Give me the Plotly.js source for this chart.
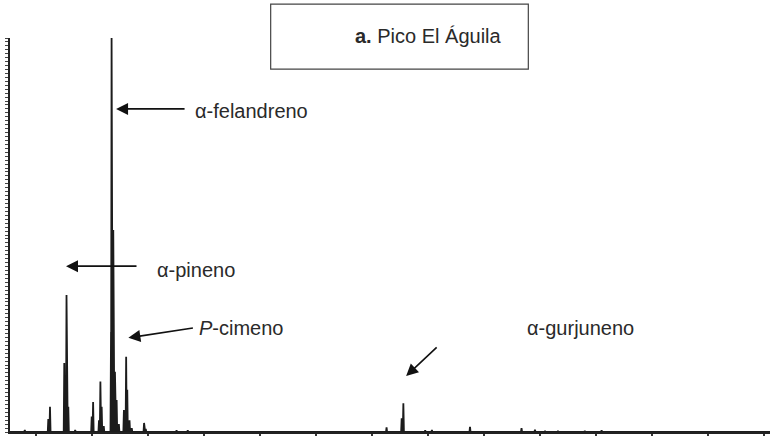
<!DOCTYPE html>
<html>
<head>
<meta charset="utf-8">
<script src="https://cdn.plot.ly/plotly-3.0.1.min.js"></script>
<style>html,body{margin:0;padding:0;background:#fff;}#chart{width:777px;height:436px;}</style>
</head>
<body>
<div id="chart"></div>
<script>
// Retention time (arbitrary units, one x tick per unit) and relative abundance (%)
const peakTimes = [0.80, 1.22, 1.25, 1.505, 1.545, 1.577, 1.70, 1.995, 2.02, 2.125, 2.15, 2.173, 2.21,
  2.34, 2.35, 2.38, 2.41, 2.44, 2.48, 2.57, 2.61, 2.63, 2.67, 2.71, 2.93, 2.96, 3.51, 3.71,
  7.26, 7.53, 7.56, 7.95, 8.07, 8.75, 9.67, 9.91, 10.09, 10.32, 10.80, 11.10];
const peakHeights = [0.5, 3.3, 6.4, 17.5, 34.8, 6.4, 0.5, 3.9, 7.6, 3.0, 12.8, 6.4, 1.5,
  25.4, 100, 51.3, 15.3, 8.1, 2.0, 5.6, 19.1, 10.7, 3.0, 1.0, 2.3, 0.8, 0.4, 0.4,
  1.2, 3.5, 7.3, 0.4, 0.5, 1.3, 1.0, 0.6, 0.3, 0.3, 0.3, 0.4];
const compoundLabels = ["α-felandreno", "α-pineno", "<i>P</i>-cimeno", "α-gurjuneno"];
const panelTitle = "<b>a.</b> Pico El Águila";

const xRange = [0.536, 14.107];
const halfW = 0.01;
const xs = [xRange[0]], ys = [0];
peakTimes.forEach((t, i) => { xs.push(t - halfW, t, t + halfW); ys.push(0, peakHeights[i], 0); });
xs.push(xRange[1]); ys.push(0);

const trace = {x: xs, y: ys, type: 'scatter', mode: 'lines',
  line: {color: '#1c1c1c', width: 1.8}, hoverinfo: 'skip'};

const F = {family: '"Liberation Sans", Arial, Helvetica, sans-serif', size: 20, color: '#2a2a2a'};
const arrowBase = {showarrow: true, arrowhead: 2, arrowsize: 1.5, arrowwidth: 1.6, arrowcolor: '#111',
  xref: 'x', yref: 'y', axref: 'pixel', ayref: 'pixel', text: '', standoff: 0};

const layout = {
  width: 777, height: 436,
  margin: {l: 10, r: 7, t: 38, b: 4},
  paper_bgcolor: '#fff', plot_bgcolor: '#fff',
  showlegend: false,
  xaxis: {range: xRange, showgrid: false, zeroline: false, showline: true, linecolor: '#222', linewidth: 1.8,
    ticks: 'outside', ticklen: 4, tickwidth: 1.3, tickcolor: '#333', tick0: 1, dtick: 1, showticklabels: false},
  yaxis: {range: [0, 100], showgrid: false, zeroline: false, showline: true, linecolor: '#222', linewidth: 2.2,
    ticks: 'outside', ticklen: 3, tickwidth: 1, tickcolor: '#444', tick0: 0, dtick: 1, showticklabels: false},
  shapes: [{type: 'rect', xref: 'paper', yref: 'paper', x0: 0.343, x1: 0.682, y0: 0.921, y1: 1.086,
    line: {color: '#444', width: 1.2}, fillcolor: 'rgba(0,0,0,0)'}],
  annotations: [
    Object.assign({}, arrowBase, {x: 2.43, y: 82, ax: 70, ay: 0}),
    {x: 3.80, y: 81.5, xref: 'x', yref: 'y', text: compoundLabels[0], showarrow: false, xanchor: 'left', yanchor: 'middle', font: F},
    Object.assign({}, arrowBase, {x: 1.536, y: 42.1, ax: 72, ay: 0}),
    {x: 3.125, y: 41.0, xref: 'x', yref: 'y', text: compoundLabels[1], showarrow: false, xanchor: 'left', yanchor: 'middle', font: F},
    Object.assign({}, arrowBase, {x: 2.65, y: 23.9, ax: 66, ay: -10}),
    {x: 3.87, y: 26.4, xref: 'x', yref: 'y', text: compoundLabels[2], showarrow: false, xanchor: 'left', yanchor: 'middle', font: F},
    Object.assign({}, arrowBase, {x: 7.61, y: 14.2, ax: 32, ay: -30}),
    {x: 9.73, y: 26.4, xref: 'x', yref: 'y', text: compoundLabels[3], showarrow: false, xanchor: 'left', yanchor: 'middle', font: F},
    {x: 0.451, y: 1.004, xref: 'paper', yref: 'paper', text: panelTitle, showarrow: false, xanchor: 'left', yanchor: 'middle', font: F}
  ]
};

Plotly.newPlot('chart', [trace], layout, {displayModeBar: false, staticPlot: true});
</script>
</body>
</html>
